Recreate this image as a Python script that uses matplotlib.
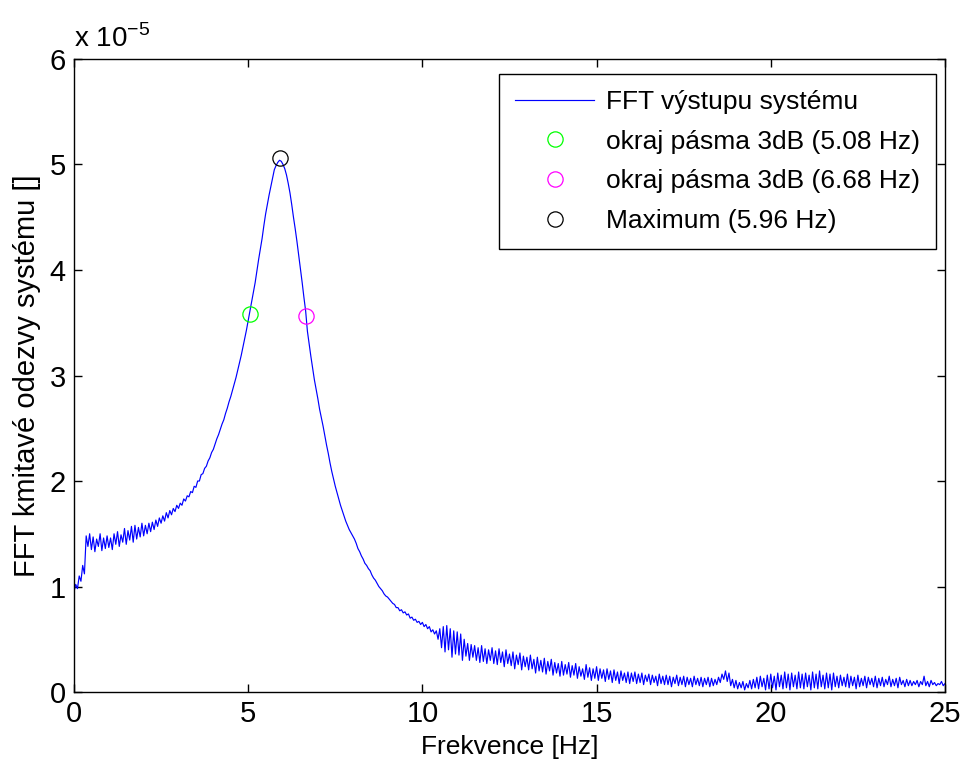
import numpy as np
import matplotlib
matplotlib.use("Agg")
import matplotlib.pyplot as plt

plt.rcParams['font.family'] = ['Liberation Sans', 'DejaVu Sans']

# frequency grid [Hz], 0.05 Hz step
freq = np.arange(0, 501) * 0.05

# FFT magnitude, in units of 1e-5 (one row per Hz)
amp = [
    0.95, 1.02, 0.98, 1.10, 1.05, 1.20, 1.12, 1.48, 1.38, 1.50, 1.35, 1.47, 1.33, 1.45, 1.38, 1.50, 1.34, 1.46, 1.36, 1.48,
    1.37, 1.46, 1.35, 1.50, 1.40, 1.52, 1.38, 1.49, 1.42, 1.55, 1.40, 1.53, 1.44, 1.57, 1.42, 1.58, 1.45, 1.56, 1.47, 1.60,
    1.48, 1.58, 1.50, 1.60, 1.52, 1.61, 1.54, 1.63, 1.57, 1.65, 1.60, 1.67, 1.62, 1.70, 1.65, 1.72, 1.68, 1.74, 1.71, 1.77,
    1.74, 1.79, 1.77, 1.83, 1.81, 1.86, 1.85, 1.90, 1.89, 1.95, 1.94, 2.00, 2.00, 2.06, 2.07, 2.12, 2.14, 2.19, 2.22, 2.27,
    2.30, 2.35, 2.40, 2.44, 2.49, 2.54, 2.58, 2.64, 2.69, 2.75, 2.80, 2.86, 2.92, 2.98, 3.05, 3.12, 3.19, 3.27, 3.35, 3.43,
    3.52, 3.61, 3.70, 3.79, 3.88, 3.99, 4.10, 4.20, 4.30, 4.42, 4.53, 4.62, 4.71, 4.79, 4.87, 4.95, 4.99, 5.02, 5.04, 5.03,
    5.00, 4.96, 4.90, 4.82, 4.73, 4.62, 4.50, 4.39, 4.27, 4.14, 4.01, 3.88, 3.74, 3.61, 3.42, 3.30, 3.18, 3.07, 2.96, 2.87,
    2.78, 2.68, 2.60, 2.52, 2.43, 2.34, 2.26, 2.17, 2.09, 2.02, 1.95, 1.89, 1.83, 1.77, 1.72, 1.67, 1.62, 1.58, 1.54, 1.51,
    1.48, 1.45, 1.41, 1.36, 1.33, 1.29, 1.26, 1.22, 1.20, 1.17, 1.15, 1.11, 1.08, 1.06, 1.03, 1.00, 0.98, 0.96, 0.93, 0.91,
    0.90, 0.88, 0.86, 0.84, 0.83, 0.80, 0.80, 0.77, 0.78, 0.75, 0.76, 0.73, 0.74, 0.70, 0.71, 0.68, 0.69, 0.66, 0.67, 0.64,
    0.66, 0.62, 0.64, 0.60, 0.62, 0.57, 0.59, 0.55, 0.58, 0.50, 0.60, 0.42, 0.62, 0.38, 0.63, 0.40, 0.60, 0.33, 0.58, 0.36,
    0.57, 0.35, 0.55, 0.30, 0.50, 0.34, 0.46, 0.30, 0.45, 0.33, 0.44, 0.30, 0.42, 0.28, 0.44, 0.29, 0.41, 0.27, 0.40, 0.30,
    0.42, 0.27, 0.39, 0.26, 0.41, 0.28, 0.38, 0.24, 0.40, 0.27, 0.36, 0.25, 0.38, 0.22, 0.35, 0.26, 0.37, 0.21, 0.34, 0.24,
    0.33, 0.21, 0.35, 0.22, 0.31, 0.18, 0.33, 0.20, 0.30, 0.19, 0.32, 0.17, 0.29, 0.20, 0.31, 0.16, 0.28, 0.18, 0.27, 0.15,
    0.29, 0.16, 0.26, 0.17, 0.28, 0.14, 0.25, 0.16, 0.27, 0.13, 0.24, 0.15, 0.22, 0.12, 0.26, 0.14, 0.23, 0.11, 0.22, 0.13,
    0.24, 0.11, 0.22, 0.13, 0.21, 0.10, 0.22, 0.12, 0.20, 0.09, 0.21, 0.11, 0.19, 0.08, 0.20, 0.11, 0.18, 0.09, 0.19, 0.08,
    0.18, 0.10, 0.19, 0.08, 0.17, 0.09, 0.18, 0.07, 0.16, 0.10, 0.17, 0.07, 0.16, 0.09, 0.15, 0.06, 0.17, 0.08, 0.15, 0.07,
    0.16, 0.07, 0.15, 0.05, 0.14, 0.08, 0.16, 0.06, 0.14, 0.07, 0.15, 0.05, 0.14, 0.07, 0.13, 0.05, 0.15, 0.07, 0.13, 0.06,
    0.14, 0.05, 0.13, 0.07, 0.14, 0.05, 0.13, 0.06, 0.12, 0.07, 0.14, 0.09, 0.17, 0.12, 0.20, 0.10, 0.18, 0.06, 0.12, 0.04,
    0.11, 0.03, 0.09, 0.04, 0.10, 0.02, 0.08, 0.04, 0.11, 0.03, 0.12, 0.04, 0.14, 0.03, 0.15, 0.05, 0.13, 0.02, 0.16, 0.03,
    0.17, 0.04, 0.15, 0.02, 0.18, 0.05, 0.16, 0.03, 0.19, 0.04, 0.17, 0.02, 0.18, 0.05, 0.16, 0.03, 0.19, 0.04, 0.17, 0.03,
    0.18, 0.05, 0.16, 0.02, 0.19, 0.04, 0.17, 0.03, 0.20, 0.05, 0.16, 0.03, 0.18, 0.04, 0.17, 0.02, 0.18, 0.05, 0.15, 0.04,
    0.16, 0.06, 0.14, 0.05, 0.17, 0.04, 0.15, 0.06, 0.14, 0.03, 0.16, 0.05, 0.13, 0.06, 0.15, 0.04, 0.14, 0.07, 0.13, 0.05,
    0.15, 0.04, 0.13, 0.06, 0.14, 0.05, 0.12, 0.07, 0.15, 0.05, 0.12, 0.06, 0.13, 0.04, 0.14, 0.07, 0.11, 0.05, 0.12, 0.06,
    0.11, 0.06, 0.10, 0.07, 0.11, 0.05, 0.10, 0.07, 0.15, 0.06, 0.10, 0.05, 0.11, 0.07, 0.09, 0.06, 0.08, 0.07, 0.10, 0.06,
    0.08,
]

# marked points (x in Hz, y in 1e-5)
band_lo = (5.05, 3.58)
band_hi = (6.66, 3.56)
peak = (5.91, 5.06)
labels = ['FFT výstupu systému', 'okraj pásma 3dB (5.08 Hz)',
          'okraj pásma 3dB (6.68 Hz)', 'Maximum (5.96 Hz)']

fig = plt.figure(figsize=(9.62, 7.69), dpi=100)
ax = fig.add_axes([0.0769, 0.1001, 0.9054, 0.8232])

ax.plot(freq, amp, color='#0000ff', lw=0.85, label=labels[0])
ax.plot(*band_lo, 'o', mfc='none', mec='#00ff00', ms=11, mew=0.9, label=labels[1])
ax.plot(*band_hi, 'o', mfc='none', mec='#ff00ff', ms=11, mew=0.9, label=labels[2])
ax.plot(*peak, 'o', mfc='none', mec='black', ms=11, mew=0.9, label=labels[3])

ax.set_xlim(0, 25)
ax.set_ylim(0, 6)
ax.set_xticks(range(0, 26, 5))
ax.set_yticks(range(0, 7))
ax.tick_params(direction='in', length=6, width=1, top=True, right=True,
               labelsize=21, pad=6)
for s in ax.spines.values():
    s.set_linewidth(1)

ax.set_xlabel('Frekvence [Hz]', fontsize=19, labelpad=5)
ax.set_ylabel('FFT kmitavé odezvy systému []', fontsize=21, labelpad=6)
ax.text(0.0, 1.01, r'x 10$^{\mathregular{-5}}$', transform=ax.transAxes,
        fontsize=20, ha='left', va='bottom')

leg = ax.legend(loc='upper right', bbox_to_anchor=(0.9897, 0.9763), borderaxespad=0,
                fontsize=19, handlelength=3.0, handletextpad=0.45,
                labelspacing=0.6, fancybox=False, edgecolor='black',
                framealpha=1, borderpad=0.6)
leg.get_frame().set_linewidth(1)

fig.savefig('out.png', dpi=100)
